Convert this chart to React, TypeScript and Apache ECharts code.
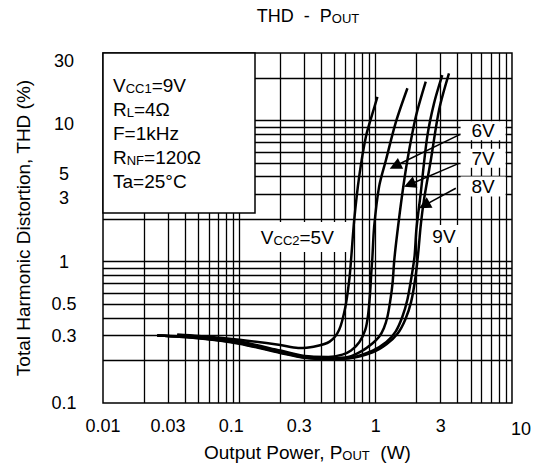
import React, { useEffect, useRef } from 'react';
import * as echarts from 'echarts';

const FONT = "'Liberation Sans', Arial, Helvetica, sans-serif";

// ---- axis ticks / grid ----
const xTickValues = [0.01, 0.03, 0.1, 0.3, 1, 3, 10];
const xTickLabels = ['0.01', '0.03', '0.1', '0.3', '1', '3', '10'];
const yTickValues = [0.1, 0.3, 0.5, 1, 3, 5, 10, 30];
const yTickLabels = ['0.1', '0.3', '0.5', '1', '3', '5', '10', '30'];
const xGridValues = [0.02, 0.03, 0.04, 0.05, 0.06, 0.07, 0.08, 0.09, 0.1, 0.2, 0.3, 0.4, 0.5, 0.6, 0.7, 0.8, 0.9, 1, 2, 3, 4, 5, 6, 7, 8, 9];
const yGridValues = [0.2, 0.3, 0.4, 0.5, 0.6, 0.7, 0.8, 0.9, 1, 2, 3, 4, 5, 6, 7, 8, 9, 10, 20];

// ---- series: [Pout (W), THD (%)] ----
const seriesNames = ['5V', '6V', '7V', '8V', '9V'];
const thd5V = [[0.035, 0.305], [0.05, 0.298], [0.1, 0.28], [0.2, 0.257], [0.27, 0.245], [0.35, 0.25], [0.46, 0.272], [0.54, 0.33], [0.6, 0.48], [0.64, 0.74], [0.66, 1.03], [0.696, 1.97], [0.757, 4.0], [0.848, 7.67], [0.948, 11.2], [1.03, 14.7]];
const thd6V = [[0.035, 0.3], [0.05, 0.295], [0.1, 0.272], [0.2, 0.235], [0.3, 0.215], [0.45, 0.212], [0.57, 0.22], [0.66, 0.235], [0.76, 0.27], [0.84, 0.33], [0.88, 0.42], [0.91, 0.6], [0.93, 0.85], [0.945, 1.05], [0.975, 1.77], [1.06, 3.4], [1.19, 5.25], [1.41, 9.8], [1.71, 16.9]];
const thd7V = [[0.025, 0.3], [0.05, 0.29], [0.1, 0.268], [0.2, 0.232], [0.3, 0.213], [0.45, 0.208], [0.64, 0.213], [0.8, 0.235], [0.95, 0.265], [1.06, 0.294], [1.15, 0.34], [1.22, 0.408], [1.28, 0.53], [1.33, 0.703], [1.37, 1.03], [1.44, 1.59], [1.57, 3.05], [1.71, 5.25], [1.97, 10.6], [2.33, 18.8]];
const thd8V = [[0.025, 0.3], [0.05, 0.288], [0.1, 0.265], [0.2, 0.228], [0.3, 0.21], [0.45, 0.205], [0.64, 0.208], [0.95, 0.235], [1.2, 0.27], [1.4, 0.32], [1.57, 0.408], [1.71, 0.54], [1.84, 0.8], [1.93, 1.1], [1.99, 1.7], [2.14, 3.05], [2.39, 7.67], [2.68, 13.2], [3.08, 20.9]];
const thd9V = [[0.025, 0.3], [0.05, 0.287], [0.1, 0.263], [0.2, 0.226], [0.3, 0.209], [0.45, 0.205], [0.64, 0.207], [0.95, 0.228], [1.2, 0.26], [1.45, 0.31], [1.65, 0.39], [1.82, 0.52], [1.96, 0.78], [2.06, 1.2], [2.14, 1.8], [2.26, 2.73], [2.54, 5.25], [2.92, 11.9], [3.45, 21.5]];
const seriesData = [thd5V, thd6V, thd7V, thd8V, thd9V];

// ---- annotations (data coordinates) ----
const curveLabels = [
  { text: '{n|6V}', at: [6.14, 8.44], box: [45, 19] },
  { text: '{n|7V}', at: [6.14, 5.39], box: [45, 19] },
  { text: '{n|8V}', at: [6.14, 3.4], box: [45, 20] },
  { text: '{n|9V}', at: [3.17, 1.52], box: [30, 22] },
  { text: '{n|V}{s|CC2}{n|=5V}', at: [0.2663, 1.495], box: [104, 30] },
];
const arrows = [
  { from: [4.2, 8.0], to: [1.389, 4.757] },
  { from: [4.08, 4.97], to: [1.774, 3.52] },
  { from: [3.87, 3.31], to: [2.276, 2.503] },
];
const conditionLines = [
  '{n|V}{s|CC1}{n|=9V}',
  '{n|R}{s|L}{n|=4Ω}',
  '{n|F=1kHz}',
  '{n|R}{s|NF}{n|=120Ω}',
  '{n|Ta=25°C}',
];
const titleText = '{n|THD  -  P}{s|OUT}';
const xName = '{n|Output Power, P}{s|OUT}{n|  (W)}';
const yName = 'Total Harmonic Distortion, THD (%)';

const subRich = (big: number, small: number, colorKey: string) => ({
  n: { fontSize: big, fontFamily: FONT, [colorKey]: '#000', verticalAlign: 'bottom' },
  s: { fontSize: small, fontFamily: FONT, [colorKey]: '#000', verticalAlign: 'bottom' },
});

function findIdx(vals: number[], v: number) {
  return vals.findIndex((t) => Math.abs(t - v) / t < 1e-6);
}

const xShift: Record<string, string> = { '0.1': 'l8', '0.3': 'l5', '10': 'r9' };
const yShift: Record<string, string> = { '30': 'd8', '10': 'd4', '5': 'd11', '3': 'd4' };

export default function App() {
  const ref = useRef<HTMLDivElement>(null);
  useEffect(() => {
    const chart = echarts.init(ref.current!, null, { renderer: 'svg' });
    const labelBase = { fontSize: 18, fontFamily: FONT, color: '#000' };
    const option: any = {
      animation: false,
      backgroundColor: '#fff',
      grid: { left: 103, right: 21, top: 53, bottom: 71, show: true, borderColor: '#000', borderWidth: 1.5, backgroundColor: 'transparent' },
      xAxis: {
        type: 'log', logBase: 10, min: 0.01, max: 10,
        axisLine: { show: false }, axisTick: { show: false }, splitLine: { show: false }, minorSplitLine: { show: false },
        axisLabel: {
          ...labelBase, margin: 14, customValues: xTickValues,
          formatter: (v: number) => {
            const s = xTickLabels[findIdx(xTickValues, v)] ?? String(v);
            const k = xShift[s];
            return k ? `{${k}|${s}}` : s;
          },
          rich: {
            l8: { ...labelBase, padding: [0, 16, 0, 0] },
            l5: { ...labelBase, padding: [0, 10, 0, 0] },
            r9: { ...labelBase, padding: [3, 0, 0, 18] },
          },
        },
        name: xName, nameLocation: 'middle', nameGap: 39,
        nameTextStyle: { fontSize: 19, fontFamily: FONT, color: '#000', rich: subRich(19, 13, 'color') },
      },
      yAxis: {
        type: 'log', logBase: 10, min: 0.1, max: 30,
        axisLine: { show: false }, axisTick: { show: false }, splitLine: { show: false }, minorSplitLine: { show: false },
        axisLabel: {
          ...labelBase, margin: 39, align: 'center', customValues: yTickValues,
          formatter: (v: number) => {
            const s = yTickLabels[findIdx(yTickValues, v)] ?? String(v);
            const k = yShift[s];
            return k ? `{${k}|${s}}` : s;
          },
          rich: {
            d8: { ...labelBase, padding: [16, 0, 0, 0] },
            d4: { ...labelBase, padding: [8, 0, 0, 0] },
            d11: { ...labelBase, padding: [22, 0, 0, 0] },
          },
        },
        name: yName, nameLocation: 'middle', nameGap: 70, nameRotate: 90,
        nameTextStyle: { fontSize: 19, fontFamily: FONT, color: '#000' },
      },
      series: [
        {
          name: 'grid', type: 'line', data: [], z: 1, silent: true,
          markLine: {
            silent: true, symbol: ['none', 'none'], label: { show: false },
            lineStyle: { color: '#000', width: 1.3, type: 'solid' },
            emphasis: { disabled: true },
            data: [...xGridValues.map((v) => ({ xAxis: v })), ...yGridValues.map((v) => ({ yAxis: v }))],
          },
        },
        {
          name: 'notes', type: 'line', data: [], z: 5, silent: true,
          markPoint: {
            silent: true, symbol: 'rect', itemStyle: { color: '#fff' },
            label: { show: true, position: 'inside', color: '#000', fontSize: 19, fontFamily: FONT, rich: subRich(19, 13, 'color') },
            data: curveLabels.map((c) => ({ coord: c.at, symbolSize: c.box, label: { formatter: c.text } })),
          },
          markLine: {
            silent: true, symbol: ['none', 'triangle'], symbolSize: 12, label: { show: false },
            lineStyle: { color: '#000', width: 1.5, type: 'solid' },
            itemStyle: { color: '#000' },
            emphasis: { disabled: true },
            data: arrows.map((a) => [{ coord: a.from }, { coord: a.to }]),
          },
        },
        ...seriesNames.map((n, i) => ({
          name: n, type: 'line', data: seriesData[i], z: 10, silent: true,
          symbol: 'none', showSymbol: false, smooth: 0.3,
          lineStyle: { color: '#000', width: 2.5 },
        })),
      ],
      graphic: [
        { type: 'rect', z: 20, shape: { x: 103, y: 53, width: 152, height: 160 }, style: { fill: '#fff', stroke: '#000', lineWidth: 1.5 } },
        ...conditionLines.map((t, i) => ({
          type: 'text', z: 21, x: 113, y: 85 + i * 24.2,
          style: { text: t, rich: subRich(19, 13, 'fill'), align: 'left', verticalAlign: 'middle', fill: '#000', fontSize: 19, fontFamily: FONT },
        })),
        {
          type: 'text', z: 21, x: 308, y: 16,
          style: { text: titleText, rich: subRich(18, 13, 'fill'), align: 'center', verticalAlign: 'middle', fill: '#000', fontSize: 18, fontFamily: FONT },
        },
      ],
    };
    chart.setOption(option);
    return () => chart.dispose();
  }, []);
  return <div ref={ref} style={{ position: 'absolute', left: 0, top: 0, width: 534, height: 474, background: '#fff' }} />;
}
